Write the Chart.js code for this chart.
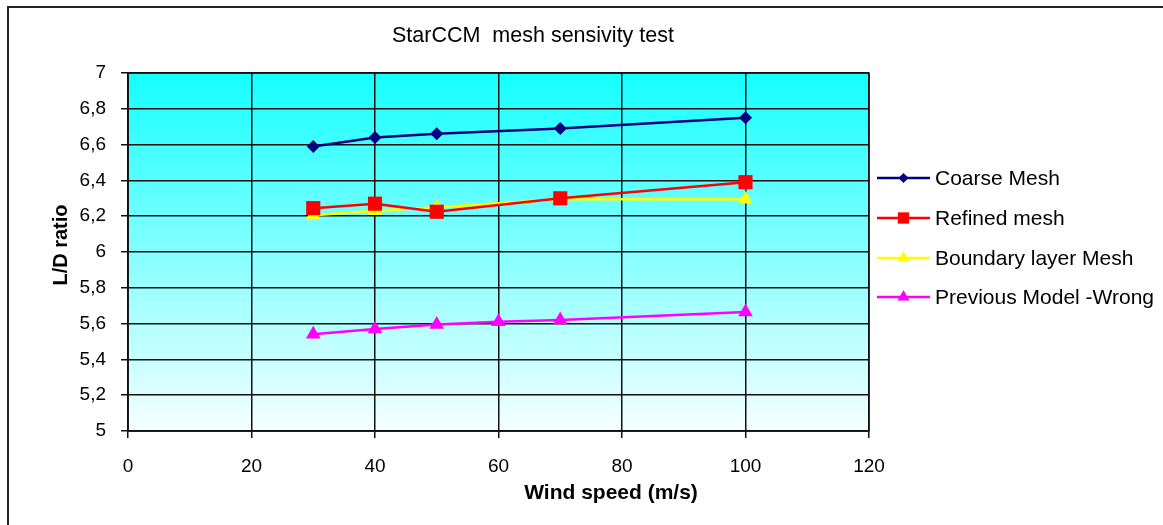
<!DOCTYPE html>
<html>
<head>
<meta charset="utf-8">
<script src="https://cdn.jsdelivr.net/npm/chart.js@4.4.1/dist/chart.umd.min.js"></script>
<style>
  html, body { margin: 0; padding: 0; background: #fff; }
  #wrap { width: 1163px; height: 525px; position: relative; }
</style>
</head>
<body>
<div id="wrap"><canvas id="c" width="1163" height="525"></canvas></div>
<script>
// ---- data ----
const chartTitle = 'StarCCM  mesh sensivity test';
const xAxisTitle = 'Wind speed (m/s)';
const yAxisTitle = 'L/D ratio';
const xTickValues = [0, 20, 40, 60, 80, 100, 120];
const yTickLabels = ['5', '5,2', '5,4', '5,6', '5,8', '6', '6,2', '6,4', '6,6', '6,8', '7'];

const seriesNames = ['Coarse Mesh', 'Refined mesh', 'Boundary layer Mesh', 'Previous Model -Wrong'];

const coarseX = [30, 40, 50, 70, 100];
const coarseY = [6.59, 6.64, 6.66, 6.69, 6.75];

const refinedX = [30, 40, 50, 70, 100];
const refinedY = [6.245, 6.27, 6.225, 6.30, 6.39];

const boundaryX = [30, 40, 50, 70, 100];
const boundaryY = [6.205, 6.23, 6.25, 6.295, 6.295];

const previousX = [30, 40, 50, 60, 70, 100];
const previousY = [5.54, 5.57, 5.595, 5.61, 5.62, 5.665];

function pts(xs, ys) { return xs.map((x, i) => ({ x: x, y: ys[i] })); }

const FONT = '"Liberation Sans", Arial, sans-serif';

const styles = [
  { color: '#000080', style: 'rectRot', r: 6.5, lr: 5 },
  { color: '#FF0000', style: 'rect', r: 10, lr: 8 },
  { color: '#FFFF00', style: 'triangle', r: 8.5, lr: 7 },
  { color: '#FF00FF', style: 'triangle', r: 8.5, lr: 7 }
];
const seriesData = [pts(coarseX, coarseY), pts(refinedX, refinedY), pts(boundaryX, boundaryY), pts(previousX, previousY)];

const datasets = seriesNames.map((name, i) => ({
  label: name,
  data: seriesData[i],
  borderColor: styles[i].color,
  backgroundColor: styles[i].color,
  pointBackgroundColor: styles[i].color,
  pointBorderColor: styles[i].color,
  pointStyle: styles[i].style,
  pointRadius: styles[i].r,
  pointBorderWidth: 0,
  borderWidth: 2.5,
  tension: 0,
  showLine: true,
  fill: false
}));

const decor = {
  id: 'decor',
  beforeDraw(chart) {
    const ctx = chart.ctx, a = chart.chartArea;
    ctx.save();
    ctx.fillStyle = '#fff';
    ctx.fillRect(0, 0, chart.width, chart.height);
    const g = ctx.createLinearGradient(0, a.top, 0, a.bottom);
    g.addColorStop(0, '#14FFFF');
    g.addColorStop(1, '#F6FFFF');
    ctx.fillStyle = g;
    ctx.fillRect(a.left, a.top, a.right - a.left, a.bottom - a.top);
    // outer frame
    ctx.strokeStyle = '#222';
    ctx.lineWidth = 2;
    ctx.strokeRect(8, 7, chart.width + 10, chart.height + 10);
    ctx.restore();
  },
  afterDraw(chart) {
    const ctx = chart.ctx, a = chart.chartArea;
    ctx.save();
    // plot border
    ctx.strokeStyle = '#111';
    ctx.lineWidth = 1.5;
    ctx.strokeRect(a.left, a.top, a.right - a.left, a.bottom - a.top);
    // title
    ctx.fillStyle = '#000';
    ctx.textAlign = 'center';
    ctx.textBaseline = 'middle';
    ctx.font = '21.5px ' + FONT;
    ctx.fillText(chartTitle, 533, 36);
    // x axis title
    ctx.font = 'bold 21px ' + FONT;
    ctx.fillText(xAxisTitle, 611, 493);
    // y axis title
    ctx.save();
    ctx.translate(61, 245);
    ctx.rotate(-Math.PI / 2);
    ctx.font = 'bold 20px ' + FONT;
    ctx.fillText(yAxisTitle, 0, 0);
    ctx.restore();
    // legend
    const lx0 = 877, lx1 = 930, tx = 935;
    const ly = [178, 218, 258, 297];
    ctx.font = '21px ' + FONT;
    ctx.textAlign = 'left';
    seriesNames.forEach((name, i) => {
      const y = ly[i];
      ctx.strokeStyle = styles[i].color;
      ctx.lineWidth = 2.5;
      ctx.beginPath();
      ctx.moveTo(lx0, y);
      ctx.lineTo(lx1, y);
      ctx.stroke();
      ctx.fillStyle = styles[i].color;
      ctx.strokeStyle = styles[i].color;
      Chart.helpers.drawPoint(ctx, { pointStyle: styles[i].style, radius: styles[i].lr, borderWidth: 0, rotation: 0 }, (lx0 + lx1) / 2, y);
      ctx.fillStyle = '#000';
      ctx.fillText(name, tx, y + 1);
    });
    ctx.restore();
  }
};

new Chart(document.getElementById('c'), {
  type: 'scatter',
  data: { datasets: datasets },
  options: {
    responsive: false,
    animation: false,
    devicePixelRatio: 1,
    layout: { padding: { top: 73, right: 294, left: 0, bottom: 0 } },
    plugins: { legend: { display: false }, title: { display: false }, tooltip: { enabled: false } },
    scales: {
      x: {
        type: 'linear',
        min: 0, max: 120,
        afterFit(scale) { scale.height = 94; },
        afterBuildTicks(scale) { scale.ticks = xTickValues.map(v => ({ value: v })); },
        ticks: { color: '#000', font: { family: FONT, size: 19 }, padding: 17, maxRotation: 0, callback: v => String(v) },
        grid: { color: '#111', lineWidth: 1.5, tickLength: 7, drawOnChartArea: true },
        border: { color: '#111', width: 1.5 }
      },
      y: {
        type: 'linear',
        min: 5, max: 7,
        afterFit(scale) { scale.width = 128; },
        afterBuildTicks(scale) { scale.ticks = yTickLabels.map((t, i) => ({ value: 5 + i * 0.2 })); },
        ticks: { color: '#000', font: { family: FONT, size: 19 }, padding: 15, callback: (v, i) => yTickLabels[i] },
        grid: { color: '#111', lineWidth: 1.5, tickLength: 7 },
        border: { color: '#111', width: 1.5 }
      }
    }
  },
  plugins: [decor]
});
</script>
</body>
</html>
